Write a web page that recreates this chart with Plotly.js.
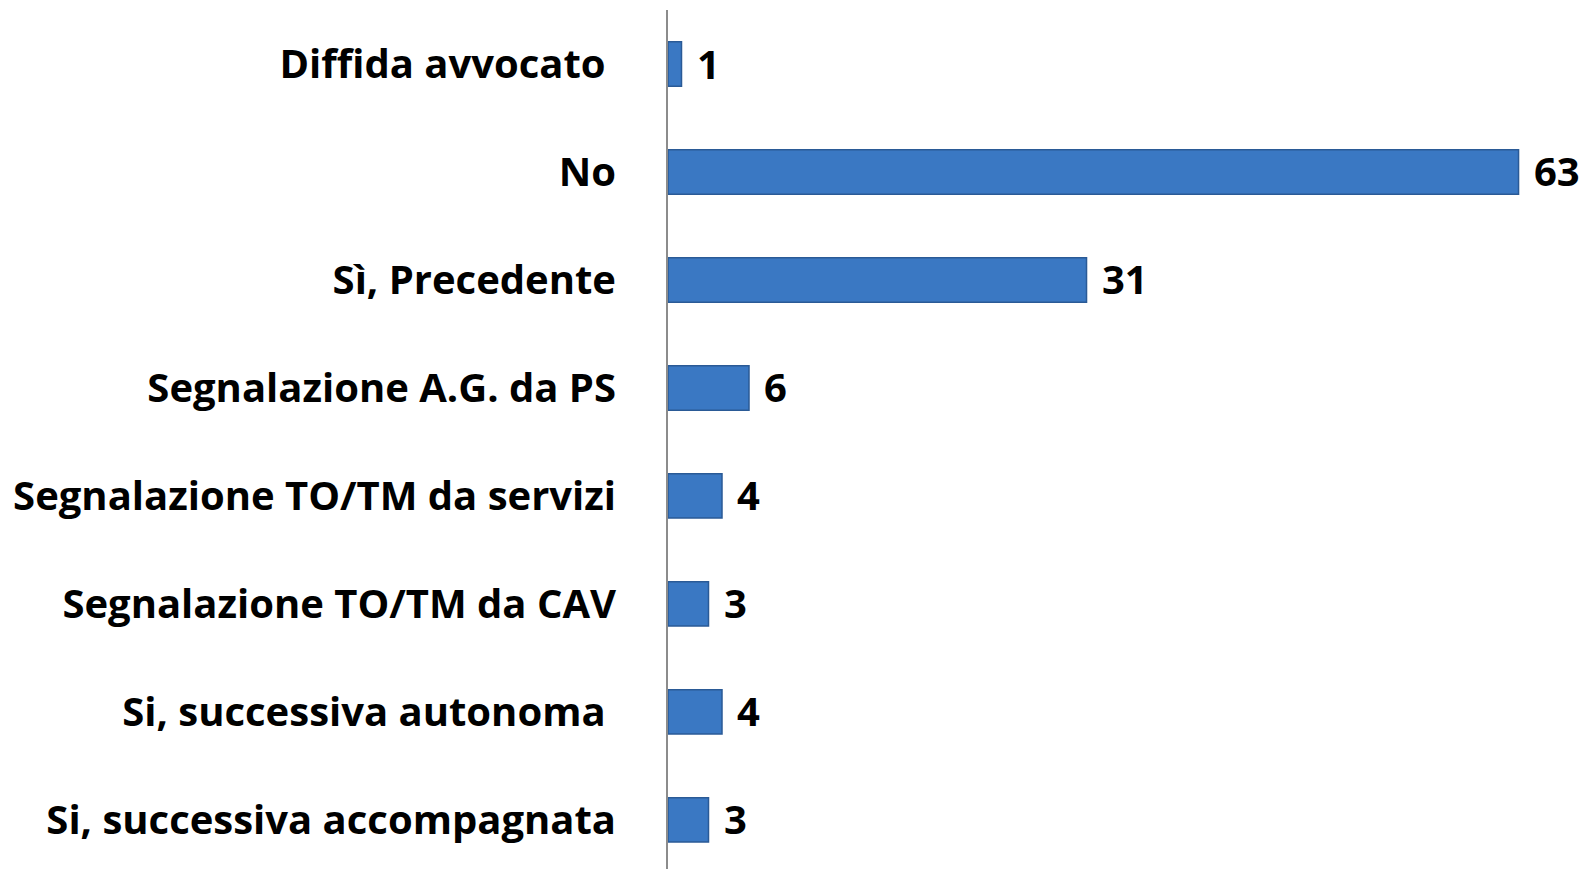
<!DOCTYPE html>
<html>
<head>
<meta charset="utf-8">
<script src="https://cdn.plot.ly/plotly-3.0.1.min.js"></script>
<style>
html,body{margin:0;padding:0;background:#fff;}
#chart{width:1587px;height:869px;}
</style>
</head>
<body>
<div id="chart"></div>
<script>
const categories = [
  "Diffida avvocato\u00a0",
  "No",
  "Sì, Precedente",
  "Segnalazione A.G. da PS",
  "Segnalazione TO/TM da servizi",
  "Segnalazione TO/TM da CAV",
  "Si, successiva autonoma\u00a0",
  "Si, successiva accompagnata"
];
const values = [1, 63, 31, 6, 4, 3, 4, 3];
const valueLabels = values.map(v => String(v));

const labelFont = {family: "'Open Sans', Lato, sans-serif", size: 40, color: "#000000", weight: 700};

const trace = {
  type: "bar",
  orientation: "h",
  y: categories,
  x: values,
  marker: {color: "#3a78c3", line: {color: "#2a5a96", width: 1.5}},
  width: 0.41,
  hoverinfo: "none"
};

const annotations = values.map((v, i) => ({
  x: v, y: categories[i], xref: "x", yref: "y",
  text: "<b>" + valueLabels[i] + "</b>",
  showarrow: false, xanchor: "left", yanchor: "middle",
  xshift: 13, yshift: 1,
  font: labelFont
}));

const layout = {
  width: 1587, height: 869,
  margin: {l: 668, r: 0, t: 10, b: 0},
  paper_bgcolor: "#ffffff", plot_bgcolor: "#ffffff",
  showlegend: false,
  xaxis: {range: [0, 68.07], showgrid: false, zeroline: false, showticklabels: false, showline: false, ticks: ""},
  yaxis: {
    type: "category",
    range: [7.454, -0.5],
    showgrid: false, zeroline: false,
    showline: true, linecolor: "#8c8c8c", linewidth: 2,
    ticks: "", ticklabelstandoff: 42,
    tickfont: labelFont
  },
  annotations: annotations
};

Plotly.newPlot("chart", [trace], layout, {displayModeBar: false, staticPlot: true});
</script>
</body>
</html>
